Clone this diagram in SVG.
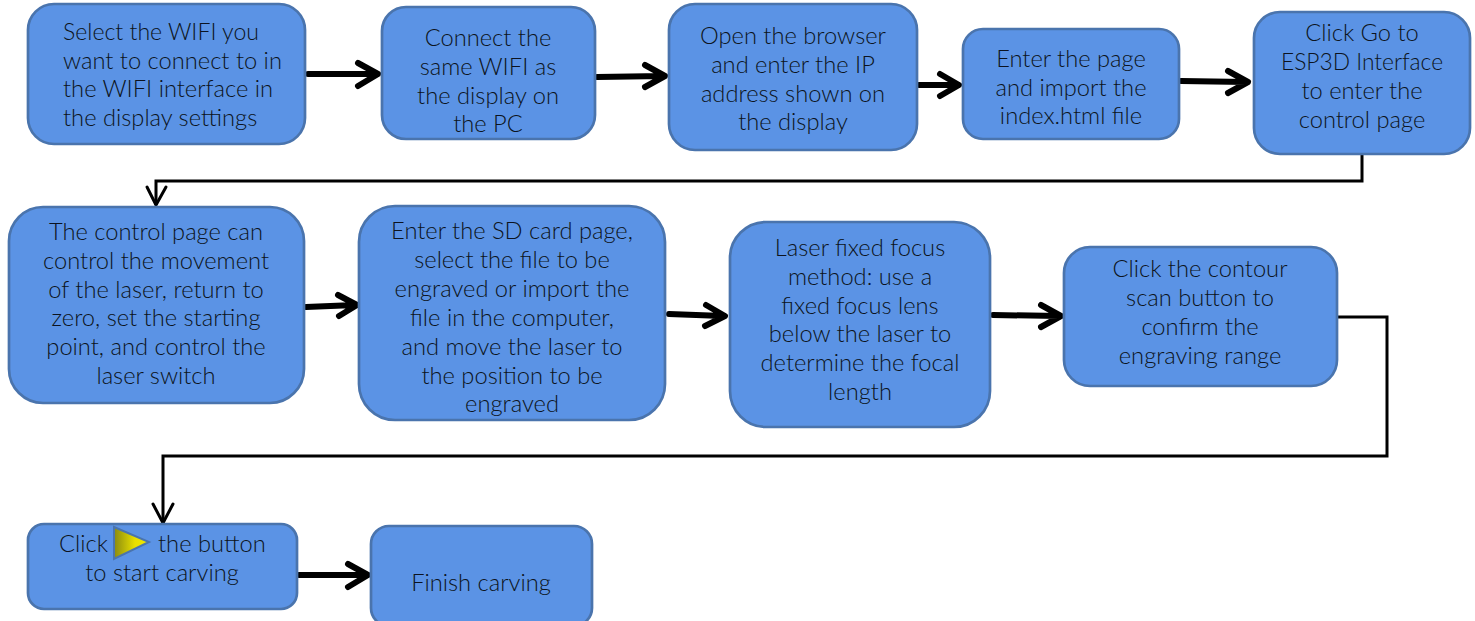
<svg xmlns="http://www.w3.org/2000/svg" width="1475" height="621" viewBox="0 0 1475 621">
<style>
.b{fill:#5b93e5;stroke:#4a74ad;stroke-width:2.7}
text{font-family:"Lato","Noto Sans",sans-serif;font-size:23.7px;font-weight:300;fill:#0c1320;text-anchor:middle}
.l{text-anchor:start}
.t{fill:none;stroke:#000;stroke-width:6;stroke-linecap:round;stroke-linejoin:round}
.n{fill:none;stroke:#000;stroke-width:3;stroke-linejoin:miter}
.h{fill:none;stroke:#000;stroke-width:3;stroke-linecap:round}
</style>
<defs>
<linearGradient id="g" x1="0" x2="1" y1="0" y2="0"><stop offset="0" stop-color="#8a8a10"/><stop offset="0.6" stop-color="#e8e000"/><stop offset="1" stop-color="#f0e800"/></linearGradient>
</defs>
<g id="connectors">
<path class="n" d="M1362 155V181H156V205"/>
<path class="h" d="M147 187L156 205L166 187"/>
<path class="n" d="M1337 317H1387V456H163V523"/>
<path class="h" d="M153 504L163 523L173 504"/>
<path class="t" d="M308 74H377M358 63L378 74L358 86"/>
<path class="t" d="M597 77L663 76M645 65L665 76L645 87"/>
<path class="t" d="M919 85H957M940 74L959 85L940 96"/>
<path class="t" d="M1181 81L1246 82M1228 71L1248 82L1228 93"/>
<path class="t" d="M306 307L355 305M338 295L357 305L339 316"/>
<path class="t" d="M669 314L723 316M706 305L725 316L705 326"/>
<path class="t" d="M993 315L1059 316M1041 305L1061 316L1041 327"/>
<path class="t" d="M299 575H366M348 564L368 575L348 587"/>
</g>
<g id="n1"><rect class="b" x="28" y="4" width="277" height="140" rx="26"/>
<text class="l" x="63" y="40" textLength="196" lengthAdjust="spacingAndGlyphs">Select the WIFI you</text><text class="l" x="63" y="69">want to connect to in</text><text class="l" x="63" y="97">the WIFI interface in</text><text class="l" x="63" y="126">the display settings</text></g>
<g id="n2"><rect class="b" x="382" y="7" width="213" height="132" rx="24"/>
<text x="488" y="46">Connect the</text><text x="488" y="75">same WIFI as</text><text x="488" y="104">the display on</text><text x="488" y="132">the PC</text></g>
<g id="n3"><rect class="b" x="669" y="4" width="248" height="146" rx="26"/>
<text x="793" y="44">Open the browser</text><text x="793" y="73">and enter the IP</text><text x="793" y="102">address shown on</text><text x="793" y="130">the display</text></g>
<g id="n4"><rect class="b" x="963" y="29" width="216" height="110" rx="20"/>
<text x="1071" y="67">Enter the page</text><text x="1071" y="96">and import the</text><text x="1071" y="124">index.html file</text></g>
<g id="n5"><rect class="b" x="1254" y="12" width="216" height="142" rx="26"/>
<text x="1362" y="41">Click Go to</text><text x="1362" y="70" textLength="162" lengthAdjust="spacingAndGlyphs">ESP3D Interface</text><text x="1362" y="99">to enter the</text><text x="1362" y="128">control page</text></g>
<g id="n6"><rect class="b" x="9" y="207" width="295" height="196" rx="34"/>
<text x="156" y="240">The control page can</text><text x="156" y="269">control the movement</text><text x="156" y="298">of the laser, return to</text><text x="156" y="326">zero, set the starting</text><text x="156" y="355">point, and control the</text><text x="156" y="384">laser switch</text></g>
<g id="n7"><rect class="b" x="359" y="206" width="306" height="214" rx="36"/>
<text x="512" y="239">Enter the SD card page,</text><text x="512" y="268">select the file to be</text><text x="512" y="297">engraved or import the</text><text x="512" y="326">file in the computer,</text><text x="512" y="355">and move the laser to</text><text x="512" y="384">the position to be</text><text x="512" y="412">engraved</text></g>
<g id="n8"><rect class="b" x="730" y="222" width="260" height="205" rx="36"/>
<text x="860" y="256">Laser fixed focus</text><text x="860" y="285">method: use a</text><text x="860" y="314">fixed focus lens</text><text x="860" y="342">below the laser to</text><text x="860" y="371">determine the focal</text><text x="860" y="400">length</text></g>
<g id="n9"><rect class="b" x="1064" y="247" width="273" height="139" rx="26"/>
<text x="1200" y="277">Click the contour</text><text x="1200" y="306">scan button to</text><text x="1200" y="335">confirm the</text><text x="1200" y="364">engraving range</text></g>
<g id="n10"><rect class="b" x="28" y="524" width="269" height="85" rx="16"/>
<text class="l" x="59" y="552">Click</text><text class="l" x="158" y="552">the button</text><text x="162" y="581">to start carving</text>
<polygon points="114,527 149,542 114,559" fill="url(#g)" stroke="#4a74ad" stroke-width="2"/></g>
<g id="n11"><rect class="b" x="371" y="526" width="221" height="100" rx="18"/>
<text x="481" y="591">Finish carving</text></g>
</svg>
